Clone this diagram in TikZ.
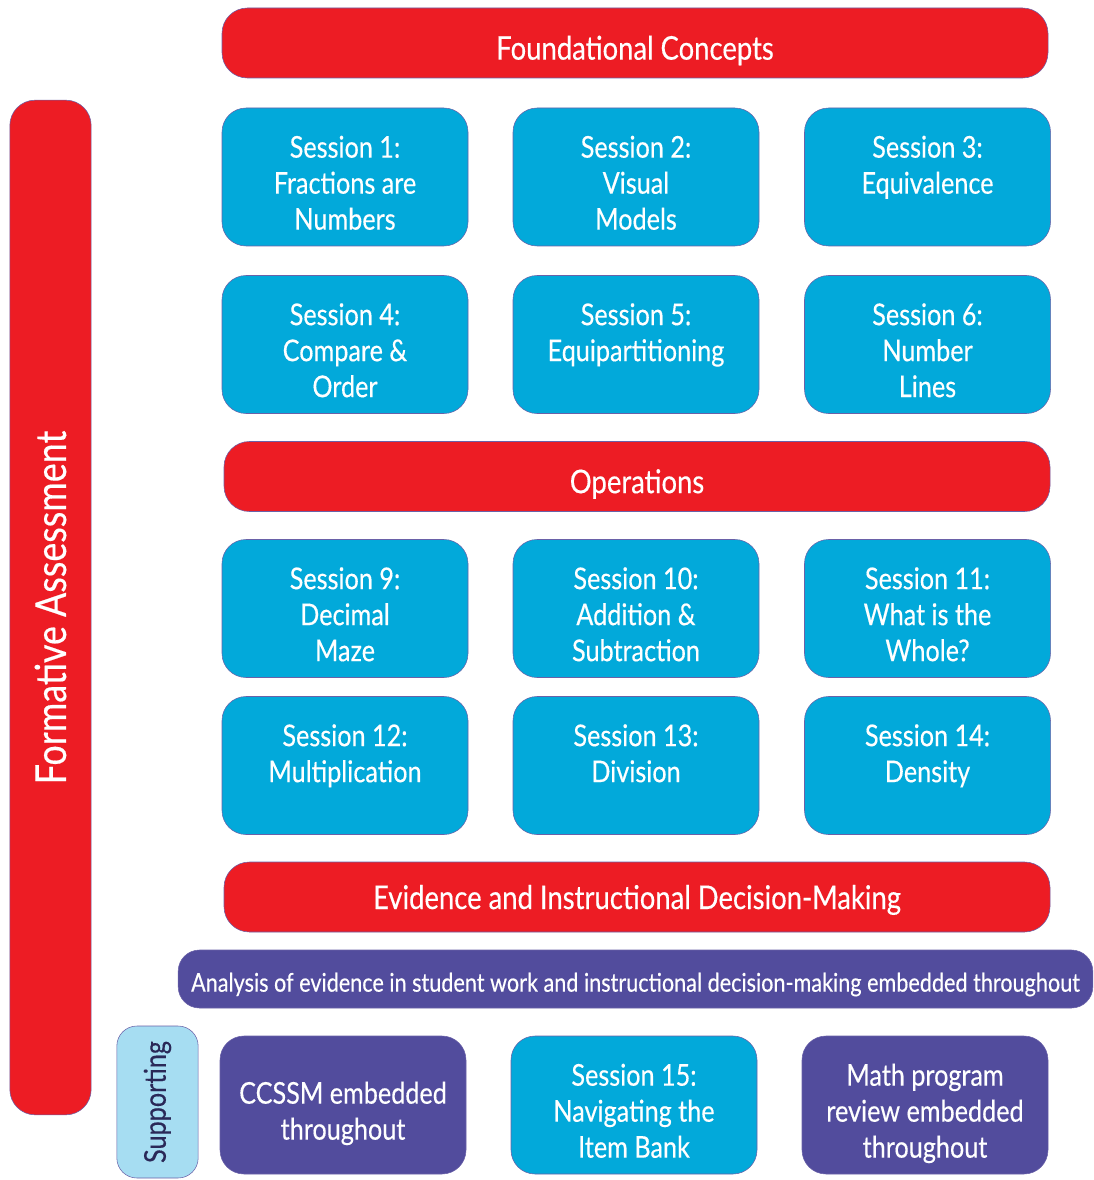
\documentclass[tikz,border=0pt]{standalone}
\usepackage{fontspec}
\setmainfont{Lato}[FakeStretch=0.84, FakeBold=0.35]
\usetikzlibrary{positioning}
\definecolor{barred}{HTML}{ED1C24}
\definecolor{sessblue}{HTML}{02A9DA}
\definecolor{embedpurple}{HTML}{524C9D}
\definecolor{supportblue}{HTML}{A6DDF2}
\definecolor{edgecolor}{HTML}{6A61A8}
\definecolor{supporttext}{HTML}{2A2858}
\newcommand{\boxfont}{\fontsize{22.5}{27}\selectfont}

\begin{document}
\begin{tikzpicture}[
      % GLOBAL CFG
      x=0.75pt, y=-0.75pt,
      % Styles
      band/.style={% For the red headings
        rectangle,
        rounded corners=19pt,
        draw=edgecolor,
        thin,
        fill=barred,
        text=white,
        font=\fontsize{24.5}{29}\selectfont,
        text height=25pt,
        text depth=0pt,
        minimum width=619.5pt,
        minimum height=52.5pt
      },
      session/.style={% For the sessions
        rectangle,
        rounded corners=18pt,
        draw=edgecolor,
        thin,
        fill=sessblue,
        text=white,
        font=\boxfont,
        align=center,
        text height=79pt,
        text depth=0pt,
        minimum width=184.5pt,
        minimum height=103.5pt
      },
      embedded/.style={% For the purple boxes
        session,
        fill=embedpurple
      }
      ]
      \useasboundingbox (0,0) rectangle (1093,1180);

      % Left column
      \node [band, rotate=90, minimum width=761pt, minimum height=61pt,
             text height=, text depth=,
             font=\fontsize{32}{36}\selectfont] (formative) at (50.5,607.5) {Formative Assessment};

      % Foundational concepts
      \node [band] (foundational) at (635,43) {Foundational Concepts};
      \node [session] (s1) at (345,177) {Session 1:\\Fractions are\\Numbers};
      \node [session] (s2) at (636,177) {Session 2:\\Visual\\Models};
      \node [session] (s3) at (927.5,177) {Session 3:\\Equivalence\\~};
      \node [session] (s4) at (345,344.5) {Session 4:\\Compare \&\\Order};
      \node [session] (s5) at (636,344.5) {Session 5:\\Equipartitioning\\~};
      \node [session] (s6) at (927.5,344.5) {Session 6:\\Number\\Lines};

      % Operations
      \node [band] (operations) at (637,476.5) {Operations};
      \node [session] (s9) at (345,608.5) {Session 9:\\Decimal\\Maze};
      \node [session] (s10) at (636,608.5) {Session 10:\\Addition \&\\Subtraction};
      \node [session] (s11) at (927.5,608.5) {Session 11:\\What is the\\Whole?};
      \node [session] (s12) at (345,765.5) {Session 12:\\Multiplication\\~};
      \node [session] (s13) at (636,765.5) {Session 13:\\Division\\~};
      \node [session] (s14) at (927.5,765.5) {Session 14:\\Density\\~};

      % Evidence
      \node [band, text height=18pt] (evidence) at (637,897) {Evidence and Instructional Decision-Making};
      \node [band, fill=embedpurple, minimum width=686pt, minimum height=43.5pt, text height=19pt,
             rounded corners=16pt, font=\fontsize{19.3}{23}\selectfont] (analysis) at (635.5,979)
            {Analysis of evidence in student work and instructional decision-making embedded throughout};

      % Supporting
      \node [session, fill=supportblue, text=supporttext, rotate=90, minimum width=114pt,
             minimum height=61pt, rounded corners=15pt, text height=, text depth=,
             font=\fontsize{22.5}{27}\selectfont] (supporting) at (157.5,1102) {Supporting};
      \node [embedded, text height=52pt] (ccssm) at (343,1105) {CCSSM embedded\\throughout};
      \node [session] (s15) at (634,1105) {Session 15:\\Navigating the\\Item Bank};
      \node [embedded] (mathreview) at (925,1105) {Math program\\review embedded\\throughout};

    \end{tikzpicture}
\end{document}
